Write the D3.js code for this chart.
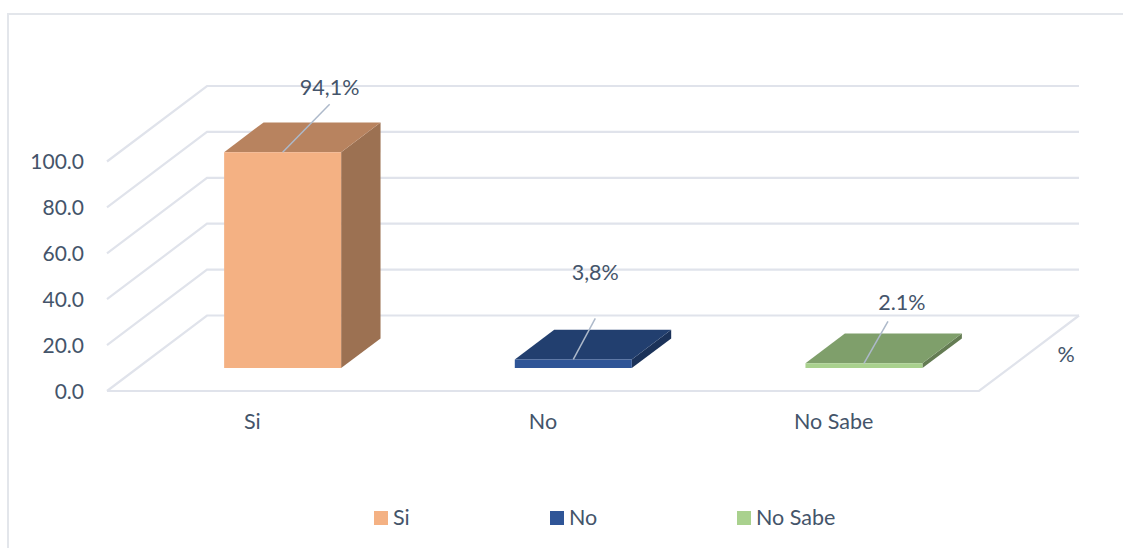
<!DOCTYPE html>
<html><head><meta charset="utf-8">
<script src="https://cdn.jsdelivr.net/npm/d3@7"></script>
<style>html,body{margin:0;padding:0;background:#fff}svg{display:block}text{font-family:Lato,sans-serif;fill:#44546a;font-size:21.5px}text.tick{font-size:21px}</style>
</head><body><svg id="c" width="1123" height="548"></svg>
<script>
const categories = ["Si", "No", "No Sabe"];
const values = [94.1, 3.8, 2.1];
const valueLabels = ["94,1%", "3,8%", "2.1%"];
const tickValues = [0, 20, 40, 60, 80, 100];
const axisTitle = "%";
const frontColors = ["#f4b183", "#2f5597", "#a9d18e"];
const topColors = ["#b8835f", "#223f6f", "#7f9f6b"];
const sideColors = ["#9c7152", "#1b3259", "#647c53"];

const svg = d3.select("#c");
const x = d3.scaleBand().domain(categories).range([107, 979]);
const y = d3.scaleLinear().domain([0, 100]).range([391, 161.5]);
const depth = d3.scaleLinear().domain([0, 1]).range([0, 100]);
const depthY = d3.scaleLinear().domain([0, 1]).range([0, -75.5]);
const P = (px, v, d) => [px + depth(d), y(v) + depthY(d)];
const poly = pts => "M" + pts.map(p => p.join(",")).join("L") + "Z";
const gridC = "#e0e3eb";
const barW = 117, d0 = 0.303, d1 = 0.697;

// chart frame
svg.append("path").attr("d", "M8,548V14H1123").attr("fill", "none").attr("stroke", "#e3e6eb").attr("stroke-width", 2);

// walls and floor
const [xL, xR] = x.range();
tickValues.forEach(t => {
  svg.append("path").attr("d", "M" + P(xL, t, 0) + "L" + P(xL, t, 1) + "L" + P(xR, t, 1))
    .attr("fill", "none").attr("stroke", gridC).attr("stroke-width", 2.2);
});
svg.append("path").attr("d", "M" + P(xL, 0, 0) + "L" + P(xR, 0, 0) + "L" + P(xR, 0, 1))
  .attr("fill", "none").attr("stroke", gridC).attr("stroke-width", 2.2);

// tick labels
svg.selectAll(".tick").data(tickValues).join("text").attr("class", "tick")
  .attr("x", 84).attr("y", d => y(d) + 0.5).attr("dy", "0.35em").attr("text-anchor", "end")
  .text(d => d3.format(".1f")(d));

// bars
const leaderEnd = [[47, -48], [22, -41], [24, -42]];
const labelOffset = [[47, -65], [22, -87], [38, -61]];
categories.forEach((c, i) => {
  const l = x(c) + (x.bandwidth() - barW) / 2, r = l + barW, v = values[i];
  const g = svg.append("g");
  g.append("path").attr("fill", sideColors[i]).attr("d", poly([P(r, 0, d0), P(r, 0, d1), P(r, v, d1), P(r, v, d0)]));
  g.append("path").attr("fill", topColors[i]).attr("d", poly([P(l, v, d0), P(r, v, d0), P(r, v, d1), P(l, v, d1)]));
  g.append("path").attr("fill", frontColors[i]).attr("d", poly([P(l, 0, d0), P(r, 0, d0), P(r, v, d0), P(l, v, d0)]));
  const a = P((l + r) / 2, v, d0);
  svg.append("line").attr("x1", a[0]).attr("y1", a[1]).attr("x2", a[0] + leaderEnd[i][0]).attr("y2", a[1] + leaderEnd[i][1])
    .attr("stroke", "#adb9ca").attr("stroke-width", 1.5);
  svg.append("text").attr("x", a[0] + labelOffset[i][0]).attr("y", a[1] + labelOffset[i][1]).attr("dy", "0.35em")
    .attr("text-anchor", "middle").text(valueLabels[i]);
  svg.append("text").attr("x", x(c) + x.bandwidth() / 2).attr("y", 421).attr("dy", "0.35em")
    .attr("text-anchor", "middle").text(c);
});

svg.append("text").attr("x", 1066).attr("y", 354).attr("dy", "0.35em").attr("text-anchor", "middle").text(axisTitle);

// legend
const legendX = [374, 550, 737];
categories.forEach((c, i) => {
  svg.append("rect").attr("x", legendX[i]).attr("y", 511).attr("width", 14).attr("height", 14).attr("fill", frontColors[i]);
  svg.append("text").attr("x", legendX[i] + 19).attr("y", 517).attr("dy", "0.35em").text(c);
});
</script></body></html>
